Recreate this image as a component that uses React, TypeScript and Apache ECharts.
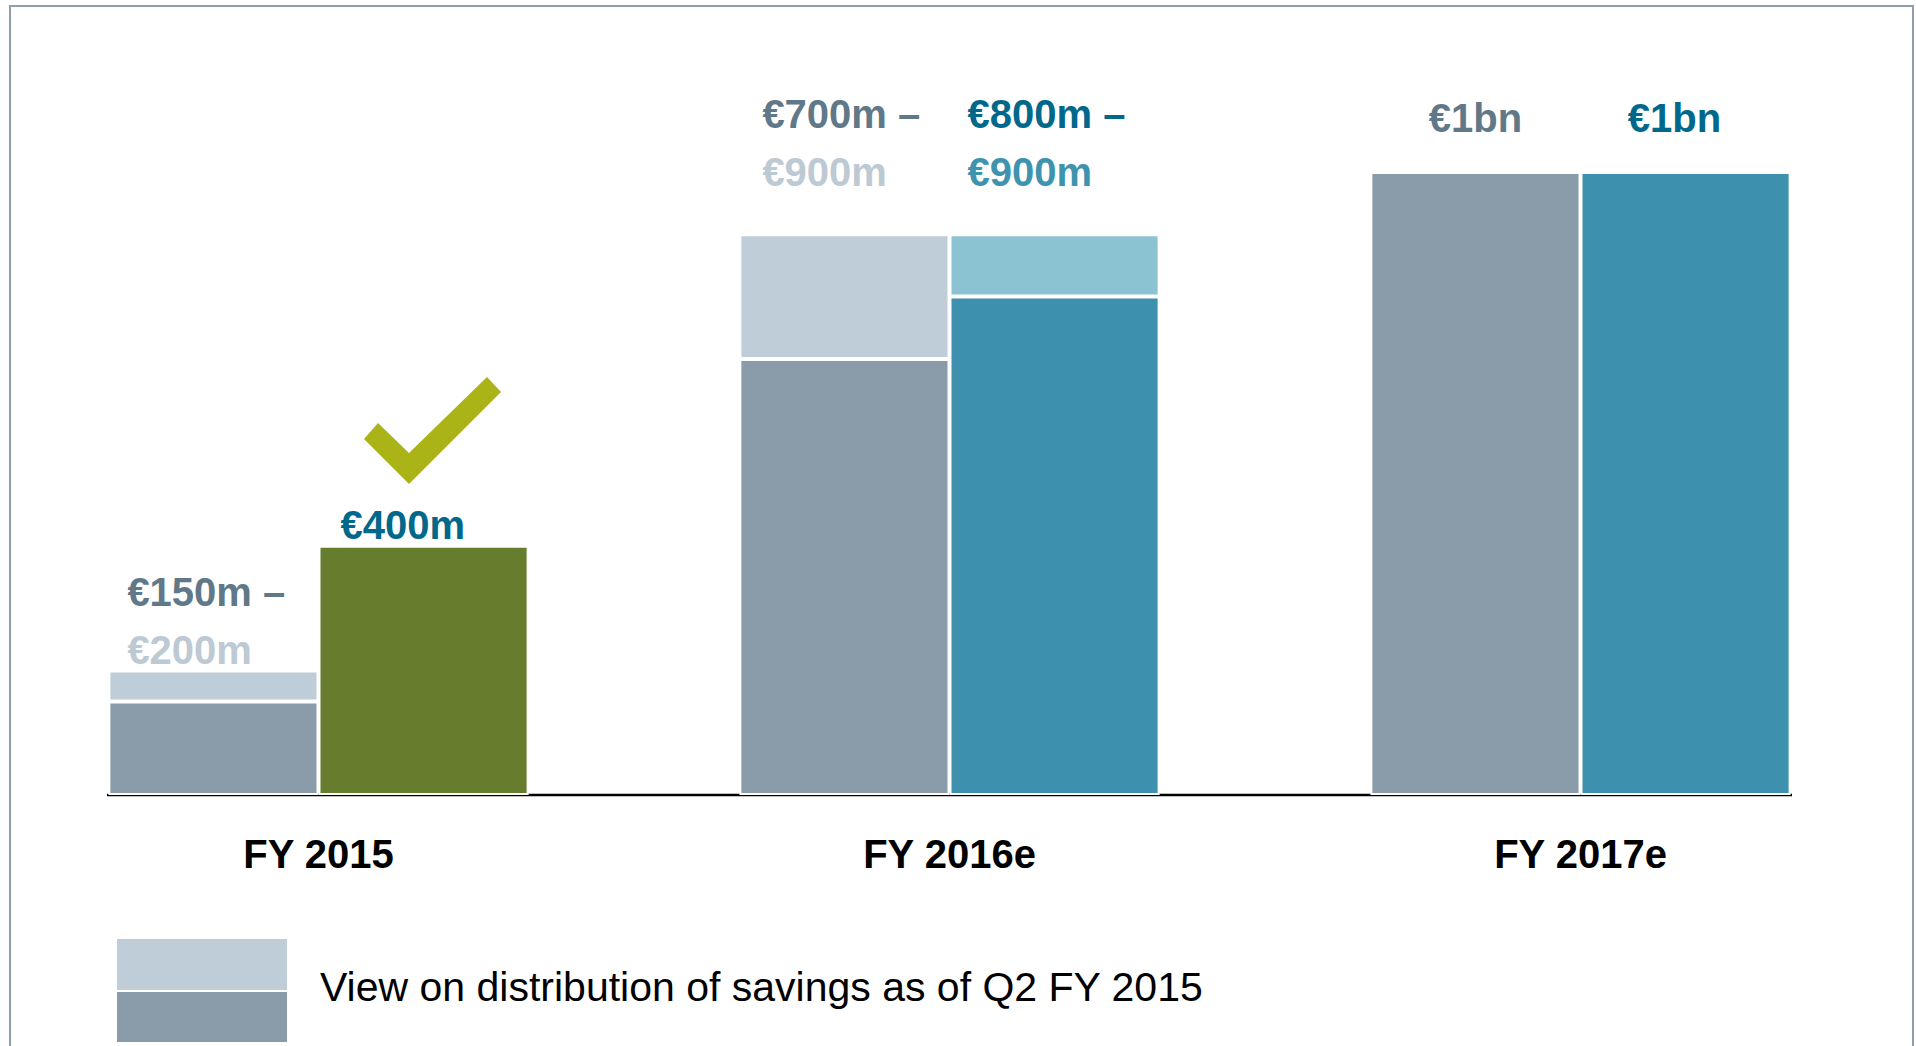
import React, { useEffect, useRef } from "react";
import * as echarts from "echarts";

// ---------- data ----------
const categories = ["FY 2015", "FY 2016e", "FY 2017e"];
// View on distribution of savings as of Q2 FY 2015 (left bars), €m
const viewLow = [150, 700, 1000];
const viewHigh = [200, 900, 1000];
// Current expectation (right bars), €m
const currentLow = [400, 800, 1000];
const currentHigh = [400, 900, 1000];
const currentAchieved = [true, false, false];
// value labels
const viewLabelTop = ["€150m –", "€700m –", "€1bn"];
const viewLabelBottom = ["€200m", "€900m", ""];
const currentLabelTop = ["€400m", "€800m –", "€1bn"];
const currentLabelBottom = ["", "€900m", ""];
const legendText = "View on distribution of savings as of Q2 FY 2015";

// ---------- styles / layout ----------
const FONT = '"Liberation Sans", Arial, Helvetica, sans-serif';
const C = {
  viewBase: "#8A9BA9",
  viewRange: "#BFCDD8",
  curBase: "#3D91AE",
  curRange: "#8CC3D3",
  achieved: "#657D2D",
  check: "#AAB416",
  frame: "#8E9EAC",
  viewTopText: "#617889",
  viewBottomText: "#BDC9D3",
  curTopText: "#00688B",
  curBottomText: "#3E93AF",
};
// label placement per category: [dx, dy, align]
const viewLabelPos: any[] = [
  [19, 9, "left"],
  [23, -33, "left"],
  ["50%", -25.5, "center"],
];
const curLabelPos: any[] = [
  [22, 8.5, "left"],
  [18, -33, "left"],
  [94, -25.5, "center"],
];

function labelFor(top: string, bottom: string, pos: any[]) {
  return {
    show: true,
    position: [pos[0], pos[1]],
    align: pos[2],
    verticalAlign: "bottom",
    formatter: bottom ? `{t|${top}}\n{b|${bottom}}` : `{t|${top}}`,
  };
}

export default function App() {
  const ref = useRef<HTMLDivElement>(null);

  useEffect(() => {
    document.body.style.margin = "0";
    const chart = echarts.init(ref.current!, null, { renderer: "svg" });

    const richView = {
      t: { fontFamily: FONT, fontWeight: "bold", fontSize: 40, lineHeight: 58, color: C.viewTopText },
      b: { fontFamily: FONT, fontWeight: "bold", fontSize: 40, lineHeight: 58, color: C.viewBottomText },
    };
    const richCur = {
      t: { fontFamily: FONT, fontWeight: "bold", fontSize: 40, lineHeight: 58, color: C.curTopText },
      b: { fontFamily: FONT, fontWeight: "bold", fontSize: 40, lineHeight: 58, color: C.curBottomText },
    };
    const itemBorder = { borderColor: "#ffffff", borderWidth: 2 };

    const option: any = {
      animation: false,
      grid: { left: 3, right: 20, top: 172, bottom: 251, containLabel: false },
      xAxis: {
        type: "category",
        data: categories,
        axisLine: { show: false },
        axisTick: { show: false },
        axisLabel: {
          margin: 39,
          fontFamily: FONT,
          fontWeight: "bold",
          fontSize: 40,
          lineHeight: 40,
          color: "#000000",
        },
      },
      yAxis: {
        type: "value",
        min: 0,
        max: 1000,
        show: false,
        splitLine: { show: false },
      },
      series: [
        {
          name: "view-low",
          type: "bar",
          stack: "view",
          silent: true,
          barCategoryGap: "33.4%",
          barGap: "0%",
          itemStyle: { color: C.viewBase, ...itemBorder },
          data: viewLow,
        },
        {
          name: "view-range",
          type: "bar",
          stack: "view",
          silent: true,
          itemStyle: { color: C.viewRange, ...itemBorder },
          label: { rich: richView },
          data: viewHigh.map((h, i) => ({
            value: h - viewLow[i],
            itemStyle: h - viewLow[i] === 0 ? { borderWidth: 0 } : {},
            label: labelFor(viewLabelTop[i], viewLabelBottom[i], viewLabelPos[i]),
          })),
        },
        {
          name: "current-low",
          type: "bar",
          stack: "current",
          silent: true,
          barCategoryGap: "33.4%",
          barGap: "0%",
          itemStyle: { color: C.curBase, ...itemBorder },
          data: currentLow.map((v, i) => ({
            value: v,
            itemStyle: { color: currentAchieved[i] ? C.achieved : C.curBase },
          })),
        },
        {
          name: "current-range",
          type: "bar",
          stack: "current",
          silent: true,
          itemStyle: { color: C.curRange, ...itemBorder },
          label: { rich: richCur },
          data: currentHigh.map((h, i) => ({
            value: h - currentLow[i],
            itemStyle: h - currentLow[i] === 0 ? { borderWidth: 0 } : {},
            label: labelFor(currentLabelTop[i], currentLabelBottom[i], curLabelPos[i]),
          })),
        },
      ],
      graphic: [
        // frame
        {
          type: "rect",
          silent: true,
          shape: { x: 10, y: 6, width: 1903, height: 1100 },
          style: { fill: "none", stroke: C.frame, lineWidth: 2 },
        },
        // baseline
        {
          type: "line",
          silent: true,
          shape: { x1: 107, y1: 795, x2: 1792, y2: 795 },
          style: { stroke: "#000000", lineWidth: 2.5 },
        },
        // check mark
        {
          type: "polygon",
          silent: true,
          shape: {
            points: [
              [364, 439],
              [378, 423],
              [409, 453],
              [487, 377],
              [501, 392],
              [409, 484],
            ],
          },
          style: { fill: C.check },
        },
        // legend swatch
        {
          type: "rect",
          silent: true,
          shape: { x: 117, y: 939, width: 170, height: 51 },
          style: { fill: C.viewRange },
        },
        {
          type: "rect",
          silent: true,
          shape: { x: 117, y: 992, width: 170, height: 50 },
          style: { fill: C.viewBase },
        },
        {
          type: "text",
          silent: true,
          x: 320,
          y: 987,
          style: {
            text: legendText,
            fill: "#000000",
            font: `41px ${FONT}`,
            align: "left",
            verticalAlign: "middle",
            textAlign: "left",
            textVerticalAlign: "middle",
          },
        },
      ],
    };

    chart.setOption(option);
    return () => chart.dispose();
  }, []);

  return <div ref={ref} style={{ width: 1916, height: 1046, background: "#ffffff" }} />;
}
